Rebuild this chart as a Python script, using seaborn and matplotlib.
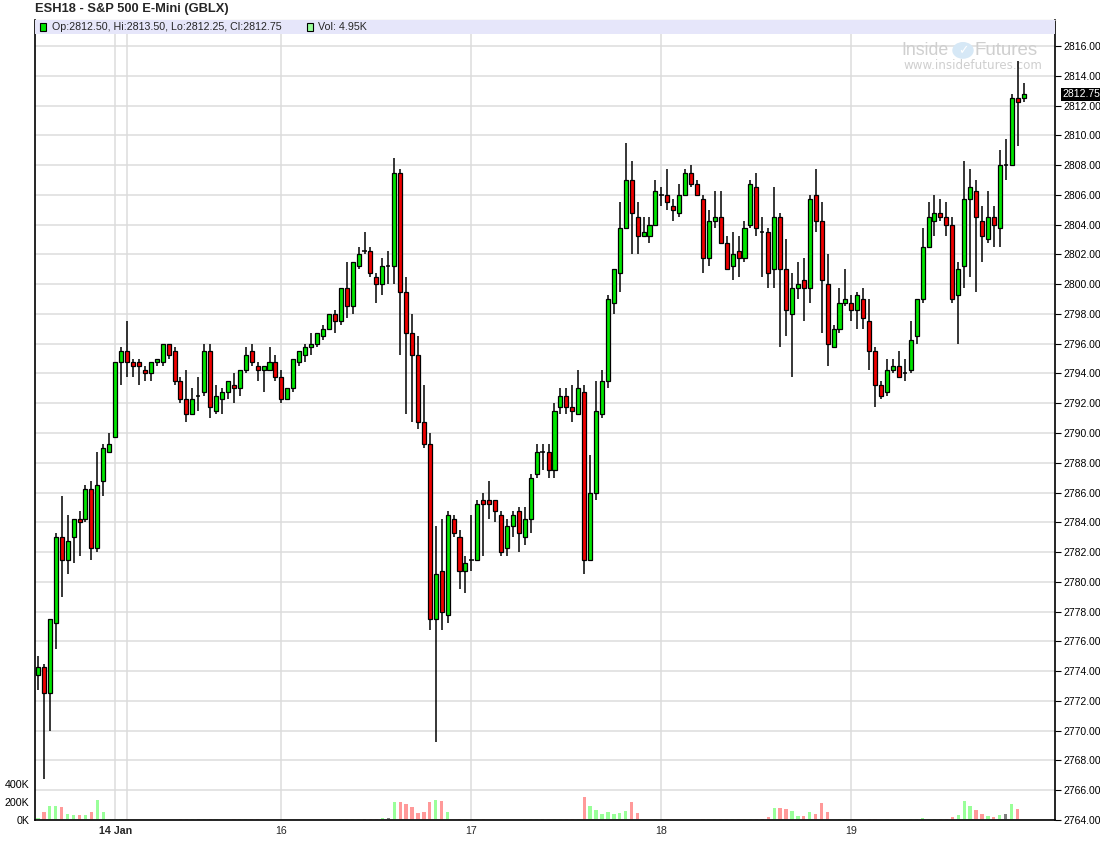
import numpy as np
import matplotlib
matplotlib.use("Agg")
import matplotlib.pyplot as plt
from matplotlib.patches import Rectangle, Circle
import seaborn as sns

# 45-minute bars, ESH18, 12 Jan - 19 Jan
opens = [2773.75, 2774.25, 2772.5, 2777.25, 2783, 2781.5, 2783, 2784.25, 2784.25, 2786.25,
         2782.25, 2786.75, 2788.75, 2789.75, 2794.75, 2795.5, 2794.75, 2794.75, 2794.25, 2794,
         2794.75, 2794.75, 2796, 2795.5, 2793.5, 2792.25, 2791.25, 2792.5, 2792.75, 2795.5,
         2791.5, 2792.25, 2792.75, 2793.25, 2793, 2794.25, 2795.5, 2794.5, 2794.25, 2794.25,
         2794.75, 2793.75, 2792.25, 2793, 2794.75, 2795.25, 2795.75, 2796, 2796.5, 2797,
         2798, 2797.5, 2799.75, 2798.5, 2801.25, 2802.25, 2802.25, 2800.5, 2800, 2801.25,
         2801.25, 2807.5, 2799.5, 2796.75, 2795.25, 2790.75, 2789.25, 2777.5, 2780.75, 2777.75,
         2784.25, 2783, 2780.75, 2781.5, 2781.5, 2785.5, 2785.5, 2785.5, 2784.5, 2782.25,
         2783.75, 2784.75, 2783, 2784.25, 2787.25, 2788.75, 2788.75, 2787.5, 2791.75, 2792.5,
         2791.75, 2791.25, 2792.75, 2781.5, 2786, 2791.25, 2793.5, 2798.75, 2800.75, 2803.75,
         2807, 2804.5, 2803.25, 2803.25, 2804, 2806, 2806, 2805.25, 2804.75, 2806,
         2807.5, 2806.75, 2805.75, 2801.75, 2804.25, 2804.5, 2802.75, 2801.25, 2802.25, 2801.75,
         2804, 2806.5, 2803.5, 2803.5, 2801, 2804.5, 2801, 2798, 2799.75, 2800.25,
         2799.75, 2806, 2804.25, 2800, 2795.75, 2797, 2798.75, 2798.75, 2798.25, 2799,
         2797.5, 2795.5, 2793.25, 2792.75, 2794.25, 2794.5, 2794, 2794.25, 2796.5, 2799,
         2802.5, 2804.25, 2804.75, 2804.5, 2804, 2799.25, 2801.25, 2805.75, 2806.25, 2804.25,
         2803, 2804.5, 2803.75, 2808, 2808, 2812.5, 2812.5]
highs = [2775, 2774.5, 2777.5, 2783.25, 2785.75, 2784.5, 2784.25, 2784.75, 2786.5, 2786.75,
         2788.75, 2789.25, 2790, 2794.75, 2795.75, 2797.5, 2795, 2795, 2794.5, 2794.75,
         2795, 2796, 2796, 2795.75, 2793.75, 2794.25, 2793, 2793.75, 2796, 2796,
         2793.25, 2793, 2793.5, 2794, 2794.25, 2795.75, 2796, 2794.75, 2794.5, 2795.75,
         2795.25, 2794.25, 2793, 2795, 2795.5, 2796, 2796.75, 2796.75, 2797.25, 2798,
         2798.25, 2799.75, 2801.5, 2801.5, 2802.5, 2803.5, 2802.5, 2800.75, 2801.75, 2802.25,
         2808.5, 2807.75, 2800.5, 2798, 2796.5, 2793.25, 2790, 2783.75, 2784.25, 2784.75,
         2784.5, 2783.5, 2781.75, 2784.5, 2785.5, 2786, 2786.75, 2785.5, 2784.75, 2784.25,
         2784.75, 2785, 2785, 2787.25, 2789.25, 2789.25, 2789.25, 2792, 2793, 2793,
         2793.25, 2794.25, 2793.25, 2788.5, 2793.5, 2794.25, 2799.25, 2801, 2805.5, 2809.5,
         2808.25, 2805.5, 2804.5, 2804.5, 2807, 2806.5, 2807.75, 2805.75, 2806.75, 2807.75,
         2808, 2807, 2806, 2805, 2806.25, 2806.25, 2803.25, 2803.5, 2803.25, 2804.25,
         2807, 2807.5, 2804.5, 2803.75, 2806.5, 2804.75, 2803, 2800.75, 2801.5, 2801.75,
         2806, 2807.75, 2805.5, 2802, 2797.25, 2799.75, 2801, 2799.25, 2799.5, 2799.75,
         2799, 2795.75, 2793.5, 2795, 2795, 2795.5, 2795, 2797.5, 2799, 2803.75,
         2805.5, 2806, 2805.75, 2805.5, 2804.5, 2801.5, 2808.25, 2807.75, 2807, 2805.25,
         2806.25, 2805.25, 2809, 2809.75, 2812.75, 2815, 2813.5]
lows = [2772.75, 2766.75, 2770, 2775.5, 2779, 2780.5, 2781.25, 2781.75, 2784, 2781.5,
        2782, 2785.75, 2788.75, 2789.75, 2793.25, 2793.75, 2793.75, 2793.25, 2793.5, 2793.5,
        2794.5, 2794.5, 2795, 2793.25, 2792, 2790.75, 2791.25, 2791.5, 2792.5, 2791,
        2791.25, 2791.25, 2792.25, 2792, 2792.5, 2794, 2794.5, 2793.5, 2792.75, 2794.25,
        2793.5, 2792, 2792.25, 2792.75, 2794.5, 2794.75, 2795.25, 2795.75, 2796.25, 2797,
        2796.75, 2797.25, 2797.75, 2798, 2801, 2802, 2800.5, 2798.75, 2799.25, 2800,
        2800, 2795.25, 2791.25, 2790.75, 2790.25, 2789, 2776.75, 2769.25, 2776.75, 2777.25,
        2783, 2779.5, 2779.25, 2780.75, 2781.5, 2781.75, 2784.25, 2784, 2781.75, 2781.75,
        2783, 2782, 2782.5, 2783.25, 2787, 2787.5, 2787, 2787, 2791.25, 2791.25,
        2790.75, 2791.25, 2780.5, 2781.5, 2785.5, 2791, 2793, 2798, 2799.5, 2803.75,
        2802, 2802, 2803.25, 2802.75, 2804, 2805.25, 2805, 2804.25, 2804.5, 2806,
        2806.5, 2806, 2800.75, 2801.25, 2803.75, 2802.75, 2801, 2800.25, 2800.5, 2801.5,
        2803.75, 2803.25, 2800.5, 2799.75, 2799.75, 2795.75, 2796.5, 2793.75, 2799, 2797.5,
        2798.75, 2803.5, 2796.75, 2794.5, 2795.75, 2796.75, 2798.5, 2797.5, 2797, 2797,
        2794.25, 2791.75, 2792.25, 2792.5, 2794, 2793.75, 2793.5, 2794, 2796, 2798.75,
        2802.5, 2803.25, 2804.25, 2803.25, 2798.75, 2796, 2799.75, 2800.5, 2799.5, 2801.5,
        2802.75, 2802.5, 2802.5, 2807, 2808, 2809.25, 2812.25]
closes = [2774.25, 2772.5, 2777.5, 2783, 2781.5, 2782.75, 2784.25, 2784, 2786.25, 2782.25,
          2786.5, 2789, 2789.25, 2794.75, 2795.5, 2794.75, 2794.5, 2794.5, 2794, 2794.75,
          2795, 2796, 2795.25, 2793.5, 2792.25, 2791.25, 2792.25, 2792.5, 2795.5, 2791.75,
          2792.5, 2792.75, 2793.5, 2793, 2794.25, 2795.25, 2794.75, 2794.25, 2794.5, 2794.75,
          2793.75, 2792.25, 2793, 2795, 2795.5, 2795.75, 2796, 2796.75, 2797, 2798,
          2797.5, 2799.75, 2798.5, 2801.5, 2802, 2802.25, 2800.75, 2800, 2801.25, 2801.25,
          2807.5, 2799.5, 2796.75, 2795.25, 2790.75, 2789.25, 2777.5, 2780.5, 2778, 2784.5,
          2783.25, 2780.75, 2781.25, 2781.5, 2785.25, 2785.25, 2785.25, 2784.75, 2782, 2783.75,
          2784.5, 2783.25, 2784.25, 2787, 2788.75, 2788.75, 2787.5, 2791.5, 2792.5, 2791.75,
          2791.5, 2793, 2781.5, 2786, 2791.5, 2793.5, 2799, 2801, 2803.75, 2807,
          2804.75, 2803.25, 2803.5, 2804, 2806.25, 2806, 2805.5, 2805, 2806, 2807.5,
          2806.75, 2806, 2801.75, 2804.25, 2804.5, 2802.75, 2801, 2802, 2801.75, 2803.75,
          2806.75, 2803.75, 2803.5, 2800.75, 2804.5, 2801, 2798.25, 2799.75, 2800, 2799.75,
          2805.75, 2804.25, 2800.25, 2796, 2797, 2798.75, 2799, 2798.25, 2799.25, 2797.75,
          2795.5, 2793.25, 2792.5, 2794.25, 2794.5, 2793.75, 2794, 2796.25, 2799, 2802.5,
          2804.5, 2804.75, 2804.5, 2804, 2799, 2801, 2805.75, 2806.5, 2804.5, 2803.25,
          2804.5, 2804, 2808, 2808, 2812.5, 2812.25, 2812.75]
# volume in thousands of contracts
volume_k = [25, 91, 153, 153, 142, 65, 55, 55, 55, 87,
            218, 87, 11, 11, 11, 11, 3, 3, 3, 3,
            3, 3, 3, 3, 11, 11, 11, 11, 11, 11,
            11, 3, 3, 11, 11, 11, 11, 11, 3, 3,
            3, 3, 3, 3, 3, 3, 3, 3, 3, 3,
            3, 8, 14, 8, 8, 8, 8, 8, 18, 18,
            200, 200, 175, 142, 76, 87, 196, 218, 207, 87,
            3, 11, 11, 11, 11, 11, 3, 3, 3, 3,
            3, 3, 8, 8, 8, 8, 8, 8, 8, 8,
            11, 11, 253, 158, 105, 63, 84, 67, 74, 95,
            200, 74, 3, 3, 11, 11, 11, 3, 3, 3,
            3, 3, 11, 8, 8, 8, 8, 8, 8, 8,
            8, 11, 14, 32, 137, 137, 123, 95, 42, 42,
            84, 63, 190, 84, 3, 8, 8, 8, 3, 3,
            8, 8, 3, 8, 3, 3, 3, 8, 8, 18,
            8, 8, 8, 8, 32, 53, 211, 158, 105, 63,
            42, 32, 53, 63, 179, 116, 5]

day_pos = [13, 41, 73, 105, 137]
day_labels = ["14 Jan", "16", "17", "18", "19"]
extra_grid = [15]

title = "ESH18 - S&P 500 E-Mini (GBLX)"
last = "Op:2812.50, Hi:2813.50, Lo:2812.25, Cl:2812.75"
vol_text = "Vol: 4.95K"

sns.set_style("white")
plt.rcParams["font.family"] = ["Liberation Sans", "DejaVu Sans"]

opens = np.array(opens)
closes = np.array(closes)
highs = np.array(highs)
lows = np.array(lows)
vols = np.array(volume_k) * 1000.0
x = np.arange(len(opens))

up = closes > opens
down = closes < opens
flat = closes == opens

fig = plt.figure(figsize=(11, 8.61), dpi=100)
rect = [35 / 1100, 41 / 861, 1020 / 1100, 800 / 861]

# volume panel underneath
vax = fig.add_axes(rect)
vcol = np.where(up, "#99ff99", np.where(down, "#ff9999", "#808080"))
vax.bar(x, vols, width=0.55, color=vcol, linewidth=0, zorder=2)
vax.set_ylim(0, 8.77e6)
vax.set_yticks([0, 200000, 400000])
vax.set_yticklabels(["0K", "200K", "400K"])
vax.tick_params(axis="y", labelsize=7.7, length=3, width=0.8, pad=1, colors="black")
vax.tick_params(axis="x", bottom=False, labelbottom=False)
for s in vax.spines.values():
    s.set_visible(False)

# price panel on top
ax = fig.add_axes(rect, sharex=vax)
ax.patch.set_alpha(0)
ax.set_ylim(2764, 2764 + 800 / 14.885)
ax.set_xlim(-0.5, 171.3)
ax.set_yticks(np.arange(2764, 2817, 2))
ax.yaxis.tick_right()
ax.yaxis.set_major_formatter(matplotlib.ticker.FormatStrFormatter("%.2f"))
ax.tick_params(axis="y", labelsize=7.5, length=4, width=0.8, pad=2, colors="black")
ax.set_xticks(day_pos)
ax.set_xticklabels(day_labels)
ax.set_xticks(extra_grid, minor=True)
ax.tick_params(axis="x", which="both", length=0, labelsize=7.7, pad=4)
ax.get_xticklabels()[0].set_fontweight("bold")
ax.grid(True, which="both", color="#dcdcdc", linewidth=1.1, zorder=0)
ax.set_axisbelow(True)
for side in ["left", "bottom", "right"]:
    ax.spines[side].set_color("black")
    ax.spines[side].set_linewidth(1.2)
ax.spines["top"].set_color("#999999")
ax.spines["top"].set_linewidth(0.8)

# candles
ax.vlines(x, lows, highs, color="black", linewidth=1.1, zorder=3)
body_lo = np.minimum(opens, closes)
body_h = np.abs(closes - opens)
ccol = np.where(up, "#00e600", "#f00000")
sel = ~flat
ax.bar(x[sel], body_h[sel], bottom=body_lo[sel], width=0.68, color=ccol[sel],
       edgecolor="black", linewidth=0.9, zorder=4)
ax.hlines(opens[flat], x[flat] - 0.36, x[flat] + 0.36, color="black", linewidth=1.1, zorder=4)

# header strip with last bar values
strip_h = 13.5 / 800
ax.add_patch(Rectangle((0, 1 - strip_h), 1, strip_h, transform=ax.transAxes,
                       facecolor="#e6e6fa", edgecolor="none", zorder=5))
ax.add_patch(Rectangle((5 / 1020, 1 - 11 / 800), 6 / 1020, 8 / 800, transform=ax.transAxes,
                       facecolor="#00e600", edgecolor="black", linewidth=0.8, zorder=6))
ax.text(17 / 1020, 1 - 6.8 / 800, last, transform=ax.transAxes, fontsize=7.7,
        va="center", ha="left", zorder=6)
ax.add_patch(Rectangle((272 / 1020, 1 - 11 / 800), 6 / 1020, 8 / 800, transform=ax.transAxes,
                       facecolor="#99ff99", edgecolor="black", linewidth=0.8, zorder=6))
ax.text(283 / 1020, 1 - 6.8 / 800, vol_text, transform=ax.transAxes, fontsize=7.7,
        va="center", ha="left", zorder=6)

# last price marker on the price scale
ax.annotate(f"{closes[-1]:.2f}", xy=(1, closes[-1]), xycoords=("axes fraction", "data"),
            xytext=(5, 0), textcoords="offset points", fontsize=7.5, color="white",
            va="center", ha="left", zorder=7,
            bbox=dict(boxstyle="square,pad=0.12", facecolor="black", edgecolor="none"))

# watermark
ax.text((901 - 35) / 1020, 0.962, "Inside", transform=ax.transAxes, fontsize=12.8,
        color="#cfcfcf", ha="left", va="center", zorder=1)
ax.add_patch(Circle(((963 - 35) / 1020, 0.962), 0.0105, transform=ax.transAxes,
                    facecolor="#d6e8f6", edgecolor="none", zorder=1))
ax.text((963 - 35) / 1020, 0.962, "✓", transform=ax.transAxes, fontsize=9, color="white",
        ha="center", va="center", family=["DejaVu Sans"], zorder=1)
ax.text((975 - 35) / 1020, 0.962, "Futures", transform=ax.transAxes, fontsize=13.5,
        color="#cfcfcf", ha="left", va="center", zorder=1)
ax.text((903 - 35) / 1020, 0.943, "www.insidefutures.com", transform=ax.transAxes,
        fontsize=8.6, color="#cfcfcf", ha="left", va="center", family=["DejaVu Sans"], zorder=1)

fig.text(35 / 1100, 1 - 9 / 861, title, fontsize=9.3, fontweight="bold",
         ha="left", va="center")

fig.savefig("out.png", dpi=100)
